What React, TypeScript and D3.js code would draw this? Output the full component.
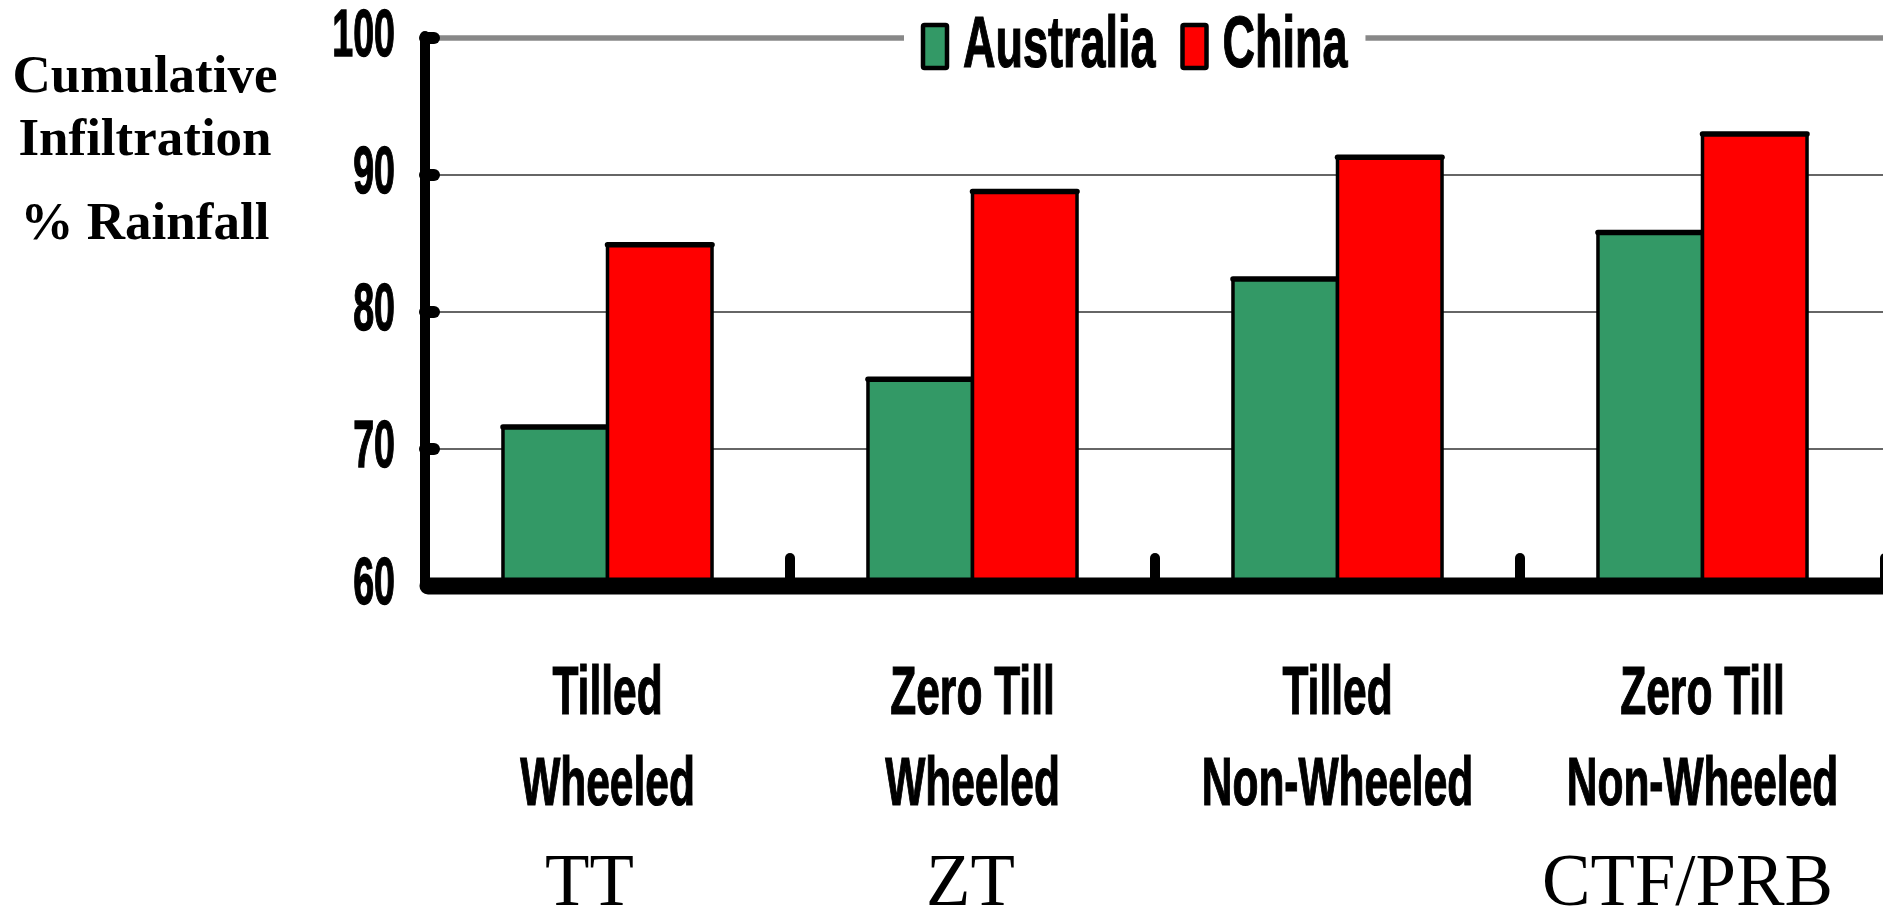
import React, { useEffect, useRef } from "react";
import * as d3 from "d3";

// values
const categories = ["TT", "ZT", "TNW", "CTF"];
const labelTop = ["Tilled", "Zero Till", "Tilled", "Zero Till"];
const labelMid = ["Wheeled", "Wheeled", "Non-Wheeled", "Non-Wheeled"];
const labelBottom = ["TT", "ZT", "", "CTF/PRB"];
const seriesNames = ["Australia", "China"];
const australia = [71.6, 75.1, 82.4, 85.8];
const china = [84.9, 88.8, 91.3, 93.0];
const yTicks = [60, 70, 80, 90, 100];
const yTitle = ["Cumulative", "Infiltration", "% Rainfall"];
const colors = ["#339966", "#ff0000"];

const W = 1883;
const H = 910;
const sans = "'Liberation Sans', Arial, sans-serif";
const serif = "'Liberation Serif', 'Times New Roman', serif";

export default function App() {
  const ref = useRef<SVGSVGElement>(null);

  useEffect(() => {
    const svg = d3.select(ref.current);
    svg.selectAll("*").remove();

    const left = 425;
    const right = 1885;

    const x0 = d3.scaleBand<string>().domain(categories).range([left, right]);
    const x1 = d3
      .scaleBand<string>()
      .domain(seriesNames)
      .range([0, x0.bandwidth()])
      .paddingInner(0)
      .paddingOuter(0.746);
    const y = d3.scaleLinear().domain([60, 100]).range([586, 38]);

    const values = [australia, china];

    // gridlines
    const grid = svg.append("g");
    grid
      .selectAll("line")
      .data(yTicks.filter((t) => t > 60))
      .join("line")
      .attr("x1", left)
      .attr("x2", W + 5)
      .attr("y1", (d) => y(d))
      .attr("y2", (d) => y(d))
      .attr("stroke", (d) => (d === 100 ? "#888" : "#333"))
      .attr("stroke-width", (d) => (d === 100 ? 5.5 : 1.5));

    // bars
    const groups = svg
      .append("g")
      .selectAll("g")
      .data(categories)
      .join("g")
      .attr("transform", (d) => `translate(${x0(d)},0)`);

    seriesNames.forEach((s, si) => {
      groups
        .append("rect")
        .attr("x", x1(s)!)
        .attr("y", (d, i) => y(values[si][i]))
        .attr("width", x1.bandwidth())
        .attr("height", (d, i) => y(60) - y(values[si][i]))
        .attr("fill", colors[si])
        .attr("stroke", "#000")
        .attr("stroke-width", 3.5)
        .attr("stroke-linejoin", "round");
      groups
        .append("line")
        .attr("x1", x1(s)!)
        .attr("x2", x1(s)! + x1.bandwidth())
        .attr("y1", (d, i) => y(values[si][i]))
        .attr("y2", (d, i) => y(values[si][i]))
        .attr("stroke", "#000")
        .attr("stroke-width", 5.5)
        .attr("stroke-linecap", "round");
    });

    // axes
    const axes = svg.append("g").attr("stroke", "#000").attr("stroke-linecap", "round");
    axes
      .append("line")
      .attr("x1", left)
      .attr("x2", left)
      .attr("y1", y(100) - 2)
      .attr("y2", y(60))
      .attr("stroke-width", 10);
    axes
      .selectAll(".ytick")
      .data(yTicks.filter((t) => t > 60))
      .join("line")
      .attr("class", "ytick")
      .attr("x1", left)
      .attr("x2", left + 9)
      .attr("y1", (d) => y(d))
      .attr("y2", (d) => y(d))
      .attr("stroke-width", 12);
    axes
      .selectAll(".xtick")
      .data(categories)
      .join("line")
      .attr("class", "xtick")
      .attr("x1", (d) => x0(d)! + x0.bandwidth())
      .attr("x2", (d) => x0(d)! + x0.bandwidth())
      .attr("y1", y(60))
      .attr("y2", y(60) - 28)
      .attr("stroke-width", 10);
    axes
      .append("line")
      .attr("x1", left + 3)
      .attr("x2", W + 20)
      .attr("y1", y(60))
      .attr("y2", y(60))
      .attr("stroke-width", 17);

    // y tick labels
    svg
      .append("g")
      .selectAll("text")
      .data(yTicks)
      .join("text")
      .attr("transform", (d) => `translate(395,${y(d) + 18}) scale(0.57,1)`)
      .attr("text-anchor", "end")
      .attr("font-family", sans)
      .attr("font-weight", "bold")
      .attr("font-size", 66)
      .attr("stroke", "#000")
      .attr("stroke-width", 1.4)
      .text((d) => d);

    // y title
    const titleBase = [92, 155, 239];
    svg
      .append("g")
      .selectAll("text")
      .data(yTitle)
      .join("text")
      .attr("x", 145)
      .attr("y", (d, i) => titleBase[i])
      .attr("text-anchor", "middle")
      .attr("font-family", serif)
      .attr("font-weight", "bold")
      .attr("font-size", 53)
      .text((d) => d);

    // category labels
    const cat = svg.append("g");
    const mid = (d: string) => x0(d)! + x0.bandwidth() / 2;
    [labelTop, labelMid].forEach((lines, li) => {
      cat
        .append("g")
        .selectAll("text")
        .data(categories)
        .join("text")
        .attr("transform", (d) => `translate(${mid(d)},${li === 0 ? 714 : 805}) scale(0.625,1)`)
        .attr("text-anchor", "middle")
        .attr("font-family", sans)
        .attr("font-weight", "bold")
        .attr("font-size", 68)
        .attr("stroke", "#000")
        .attr("stroke-width", 1.2)
        .text((d, i) => lines[i]);
    });
    // the short codes sit a little left of centre in the original
    const nudge = [-18, -2, 0, -15];
    cat
      .append("g")
      .selectAll("text")
      .data(categories)
      .join("text")
      .attr("transform", (d, i) => `translate(${mid(d) + nudge[i]},905) scale(0.97,1)`)
      .attr("text-anchor", "middle")
      .attr("font-family", serif)
      .attr("font-size", 75)
      .text((d, i) => labelBottom[i]);

    // legend, sitting on the 100 line
    const legend = svg.append("g");
    const bg = legend.append("rect").attr("fill", "#fff");
    let lx = 921;
    seriesNames.forEach((s, si) => {
      legend
        .append("rect")
        .attr("x", lx + 2)
        .attr("y", 25)
        .attr("width", 24)
        .attr("height", 43)
        .attr("rx", 1.5)
        .attr("fill", colors[si])
        .attr("stroke", "#000")
        .attr("stroke-width", 4.5);
      const t = legend
        .append("text")
        .attr("transform", `translate(${lx + 42},67) scale(0.625,1)`)
        .attr("font-family", sans)
        .attr("font-weight", "bold")
        .attr("font-size", 72)
        .attr("stroke", "#000")
        .attr("stroke-width", 1.2)
        .text(s);
      const w = (t.node() as SVGTextElement).getComputedTextLength() * 0.625;
      lx = lx + 42 + w + 25;
    });
    bg.attr("x", 904).attr("y", 10).attr("width", lx - 25 + 18 - 904).attr("height", 65);
  }, []);

  return (
    <svg
      ref={ref}
      width={W}
      height={H}
      style={{ position: "absolute", left: 0, top: 0, background: "#fff" }}
    />
  );
}
